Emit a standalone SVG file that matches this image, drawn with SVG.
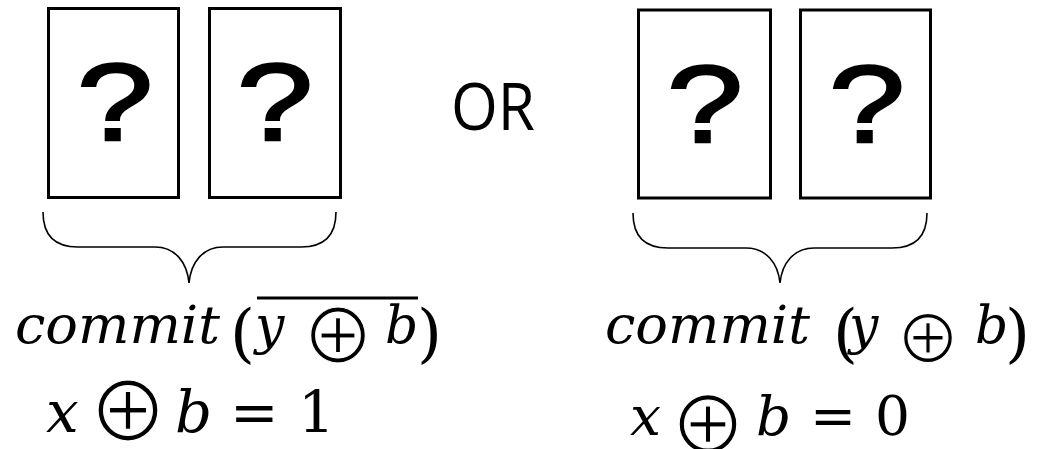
<svg xmlns="http://www.w3.org/2000/svg" width="1040" height="449" viewBox="0 0 1040 449">
<style>
.card{fill:#fff;stroke:#000;stroke-width:3}
.q{font-family:"Liberation Sans",Arial,sans-serif;font-size:110px;text-anchor:middle;fill:#000;stroke:#000;stroke-width:2.5}
.brace{fill:none;stroke:#000;stroke-width:1.6}
.mi{font-family:"DejaVu Serif","Liberation Serif",serif;font-style:italic;fill:#000}
.mu{font-family:"DejaVu Serif","Liberation Serif",serif;fill:#000}
.op{font-family:"Noto Sans CJK JP","DejaVu Sans",sans-serif;fill:#000;text-anchor:middle;stroke:#fff;stroke-width:1.2}
.or{font-family:"Open Sans","Liberation Sans",sans-serif;font-size:66px;fill:#000}
</style>
<rect width="1040" height="449" fill="#fff"/>
<g id="left-card-1"><rect class="card" x="48.5" y="8.5" width="130" height="189"/><text class="q" x="115" y="140" textLength="76" lengthAdjust="spacingAndGlyphs">?</text></g>
<g id="left-card-2"><rect class="card" x="209.5" y="8.5" width="131" height="189"/><text class="q" x="275" y="140" textLength="76" lengthAdjust="spacingAndGlyphs">?</text></g>
<g id="right-card-1"><rect class="card" x="638.5" y="10" width="132" height="188"/><text class="q" x="705" y="142" textLength="76" lengthAdjust="spacingAndGlyphs">?</text></g>
<g id="right-card-2"><rect class="card" x="800.5" y="10" width="130" height="188"/><text class="q" x="867" y="142" textLength="76" lengthAdjust="spacingAndGlyphs">?</text></g>
<g id="or-label"><text class="or" x="451" y="130" textLength="84" lengthAdjust="spacingAndGlyphs">OR</text></g>
<g id="connectors">
<path class="brace" d="M43,212 C43,235 55,247 78,247 L155,247 C175,247 187,262 189,283 C191,262 203,247 223,247 L301,247 C324,247 336,235 336,212"/>
<path class="brace" d="M633,213 C633,236 645,248 668,248 L746,248 C766,248 778,263 780,283 C782,263 794,248 814,248 L892,248 C915,248 927,236 927,213"/>
</g>
<g id="left-label">
<text class="mi" font-size="52" x="15" y="343" textLength="205" lengthAdjust="spacingAndGlyphs">commit</text>
<text class="mu" font-size="64" x="230" y="355">(</text>
<text class="mi" font-size="52" x="255" y="343">y</text>
<text class="op" font-size="74" x="338" y="363">⊕</text>
<text class="mi" font-size="52" x="385" y="343">b</text>
<text class="mu" font-size="64" x="417" y="355">)</text>
<line x1="257" y1="298" x2="418" y2="298" stroke="#000" stroke-width="3"/>
<text class="mi" font-size="58" x="46" y="432">x</text>
<text class="op" font-size="81" x="128" y="441">⊕</text>
<text class="mi" font-size="58" x="175" y="432">b</text>
<text class="mu" font-size="58" x="230" y="432">=</text>
<text class="mu" font-size="58" x="298" y="432">1</text>
</g>
<g id="right-label">
<text class="mi" font-size="52" x="605" y="343" textLength="205" lengthAdjust="spacingAndGlyphs">commit</text>
<text class="mu" font-size="64" x="833" y="355">(</text>
<text class="mi" font-size="52" x="849" y="343">y</text>
<text class="op" font-size="66" x="928" y="363">⊕</text>
<text class="mi" font-size="52" x="975" y="343">b</text>
<text class="mu" font-size="64" x="1005" y="355">)</text>
<text class="mi" font-size="55" x="630" y="435">x</text>
<text class="op" font-size="78" x="708" y="454">⊕</text>
<text class="mi" font-size="55" x="756" y="435">b</text>
<text class="mu" font-size="55" x="810" y="435">=</text>
<text class="mu" font-size="55" x="875" y="435">0</text>
</g>
</svg>
